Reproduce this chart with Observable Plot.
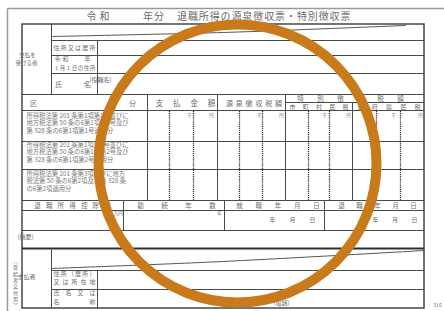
<!DOCTYPE html>
<html>
<head>
<meta charset="utf-8">
<script src="https://cdn.jsdelivr.net/npm/d3@7"></script>
<script src="https://cdn.jsdelivr.net/npm/@observablehq/plot@0.6"></script>
<style>
  html, body { margin: 0; padding: 0; background: #fff; }
  #chart svg { display: block; }
</style>
</head>
<body>
<div id="chart"></div>
<script>
// ---- form geometry (form coordinates) ----
const pageBorder = [
  {x1: 7, y1: 8, x2: 444, y2: 8},
  {x1: 7, y1: 8, x2: 7, y2: 311}
];
const formFrame = [{x1: 22, y1: 24, x2: 424, y2: 308}];
const hLines = [
  {y: 40, x1: 51, x2: 424}, {y: 55, x1: 51, x2: 424}, {y: 73, x1: 51, x2: 424},
  {y: 94, x1: 22, x2: 424}, {y: 102, x1: 285, x2: 424}, {y: 110, x1: 22, x2: 424},
  {y: 141, x1: 22, x2: 424}, {y: 169, x1: 22, x2: 424}, {y: 200, x1: 22, x2: 424},
  {y: 210, x1: 22, x2: 424}, {y: 230, x1: 22, x2: 424},
  {y: 270, x1: 51, x2: 424}, {y: 289, x1: 51, x2: 424}
];
const thickLines = [{y: 248, x1: 22, x2: 424}];
const vLines = [
  {x: 51, y1: 24, y2: 94}, {x: 97, y1: 40, y2: 94},
  {x: 147, y1: 94, y2: 200}, {x: 217, y1: 94, y2: 200}, {x: 285, y1: 94, y2: 200},
  {x: 352, y1: 102, y2: 200},
  {x: 123, y1: 200, y2: 230}, {x: 224, y1: 200, y2: 230}, {x: 324, y1: 200, y2: 230},
  {x: 51, y1: 248, y2: 308}, {x: 97, y1: 270, y2: 308}
];
const dottedCols = [169, 193, 239, 262, 308, 329, 376, 400];
const dottedSpan = {y1: 111, y2: 200};
const slantTop = [[51, 36], [222, 32], [330, 28], [405, 25]];
const slantBottom = [[51, 268], [222, 261], [424, 250]];

// ---- text: labels spread evenly between two points ----
const spreadLabels = [
  {t: "令和", x1: 91, y1: 16, x2: 104, y2: 16, s: 10},
  {t: "年分", x1: 147.5, y1: 16, x2: 158.5, y2: 16, s: 10},
  {t: "退職所得の源泉徴収票・特別徴収票", x1: 181.5, y1: 16, x2: 345, y2: 16, s: 10},
  {t: "住所又は居所", x1: 56, y1: 47.5, x2: 92, y2: 47.5, s: 6},
  {t: "令和", x1: 57, y1: 59, x2: 65, y2: 59, s: 6},
  {t: "1月1日の住所", x1: 56, y1: 67.5, x2: 92, y2: 67.5, s: 5.5},
  {t: "氏名", x1: 58, y1: 84, x2: 87, y2: 84, s: 7},
  {t: "支払金額", x1: 159, y1: 103, x2: 211, y2: 103, s: 7.5},
  {t: "源泉徴収税額", x1: 229, y1: 103, x2: 278, y2: 103, s: 7},
  {t: "特別徴収税額", x1: 300, y1: 98, x2: 400, y2: 98, s: 6.5},
  {t: "市町村民税", x1: 292, y1: 106.5, x2: 345, y2: 106.5, s: 6},
  {t: "道府県民税", x1: 360, y1: 106.5, x2: 417, y2: 106.5, s: 6},
  {t: "退職所得控除額", x1: 37, y1: 205.5, x2: 107, y2: 205.5, s: 6.5},
  {t: "勤続年数", x1: 140, y1: 205.5, x2: 212, y2: 205.5, s: 6.5},
  {t: "就職年月日", x1: 239, y1: 205.5, x2: 316, y2: 205.5, s: 6.5},
  {t: "退職年月日", x1: 341, y1: 205.5, x2: 413, y2: 205.5, s: 6.5},
  {t: "年月日", x1: 272, y1: 220, x2: 312, y2: 220, s: 6},
  {t: "年月日", x1: 375, y1: 220, x2: 414, y2: 220, s: 6},
  {t: "住所（居所）", x1: 56, y1: 273.5, x2: 92, y2: 273.5, s: 6},
  {t: "又は所在地", x1: 56, y1: 282, x2: 92, y2: 282, s: 6},
  {t: "氏名又は", x1: 56, y1: 293, x2: 92, y2: 293, s: 6},
  {t: "名称", x1: 56, y1: 301.5, x2: 92, y2: 301.5, s: 6},
  {t: "︵受給者交付用︶", x1: 15, y1: 261, x2: 15, y2: 305, s: 5}
];

// ---- text: single labels ----
const plainLabels = [
  {t: "年", x: 87, y: 59, s: 6, a: "middle"},
  {t: "支払を", x: 27, y: 55, s: 5.5, a: "start"},
  {t: "受ける者", x: 26, y: 63, s: 5.5, a: "start"},
  {t: "(役職名)", x: 100, y: 80, s: 6, a: "start"},
  {t: "区", x: 33, y: 103, s: 7, a: "middle"},
  {t: "分", x: 132, y: 103, s: 7, a: "middle"},
  {t: "万円", x: 118, y: 213.5, s: 4.5, a: "end"},
  {t: "年", x: 219, y: 213.5, s: 4.5, a: "end"},
  {t: "(摘要)", x: 25, y: 237, s: 6, a: "start"},
  {t: "支払者", x: 26, y: 277, s: 6, a: "start"},
  {t: "(電話)", x: 281, y: 303, s: 6, a: "middle"},
  {t: "316", x: 437, y: 305, s: 5, a: "middle"}
];

// ---- amount unit marks in first row ----
const unitMarks = [
  {t: "千", x: 189}, {t: "円", x: 211},
  {t: "千", x: 259}, {t: "円", x: 281},
  {t: "千", x: 324}, {t: "円", x: 348},
  {t: "千", x: 393}, {t: "円", x: 420}
];
const unitRowY = 115;

// ---- 区分 row descriptions ----
const rowTexts = [
  ["所得税法第 201 条第1項第1号並びに", "地方税法第 50 条の6第1項第1号及び", "第 328 条の6第1項第1号適用分"],
  ["所得税法第 201 条第1項第2号並びに", "地方税法第 50 条の6第1項第2号及び", "第 328 条の6第1項第2号適用分"],
  ["所得税法第 201 条第3項並びに地方", "税法第 50 条の6第2項及び第 328 条", "の6第2項適用分"]
];
const rowTextTop = [115, 144, 173];
const rowTextStep = 7.6;

// ---- overlaid hand-drawn ring (centre and radius in form units) ----
const ring = [{x: 237, y: 163, r: 139}];

// ---- derived tables ----
const spreadChars = spreadLabels.flatMap(L => {
  const cs = Array.from(L.t);
  const n = cs.length;
  return cs.map((c, i) => ({
    c, s: L.s,
    x: n > 1 ? L.x1 + i * (L.x2 - L.x1) / (n - 1) : L.x1,
    y: n > 1 ? L.y1 + i * (L.y2 - L.y1) / (n - 1) : L.y1
  }));
});
const rowLines = rowTexts.flatMap((lines, r) =>
  lines.map((t, i) => ({t, y: rowTextTop[r] + i * rowTextStep})));
const dotted = dottedCols.map(x => ({x, ...dottedSpan}));

const FONT = "'Noto Sans CJK JP', 'Noto Sans', sans-serif";
const ink = "#4a4a4a";
const textInk = "#6a6a6a";

const chart = Plot.plot({
  width: 444,
  height: 311,
  margin: 0,
  style: {fontFamily: FONT, background: "#fff"},
  x: {domain: [0, 444], range: [0, 444], axis: null},
  y: {domain: [0, 311], range: [0, 311], axis: null},
  r: {type: "identity"},
  marks: [
    Plot.link(pageBorder, {x1: "x1", y1: "y1", x2: "x2", y2: "y2", stroke: "#9a9a9a", strokeWidth: 1.5}),
    Plot.ruleY(hLines, {y: "y", x1: "x1", x2: "x2", stroke: ink, strokeWidth: 1}),
    Plot.ruleY(thickLines, {y: "y", x1: "x1", x2: "x2", stroke: "#2e2e2e", strokeWidth: 2}),
    Plot.ruleX(vLines, {x: "x", y1: "y1", y2: "y2", stroke: ink, strokeWidth: 1}),
    Plot.ruleX(dotted, {x: "x", y1: "y1", y2: "y2", stroke: "#333", strokeWidth: 1.3, strokeDasharray: "1.2,0.9"}),
    Plot.line(slantTop, {x: d => d[0], y: d => d[1], curve: "catmull-rom", stroke: "#555", strokeWidth: 1}),
    Plot.line(slantBottom, {x: d => d[0], y: d => d[1], curve: "catmull-rom", stroke: "#555", strokeWidth: 1}),
    Plot.rect(formFrame, {x1: "x1", y1: "y1", x2: "x2", y2: "y2", fill: "none", stroke: "#3a3a3a", strokeWidth: 1.4}),
    Plot.text(spreadChars, {x: "x", y: "y", text: "c", fontSize: "s", fill: textInk}),
    Plot.text(plainLabels, {x: "x", y: "y", text: "t", fontSize: "s", textAnchor: "a", fill: textInk}),
    Plot.text(unitMarks, {x: "x", y: unitRowY, text: "t", fontSize: 4.5, fill: textInk}),
    Plot.text(rowLines, {x: 26, y: "y", text: "t", fontSize: 6.3, textAnchor: "start", fill: "#7a7a7a"}),
    Plot.dot(ring, {x: "x", y: "y", r: "r", fill: "none", stroke: "#c97a1b", strokeWidth: 10})
  ]
});
document.getElementById("chart").appendChild(chart);
</script>
</body>
</html>
